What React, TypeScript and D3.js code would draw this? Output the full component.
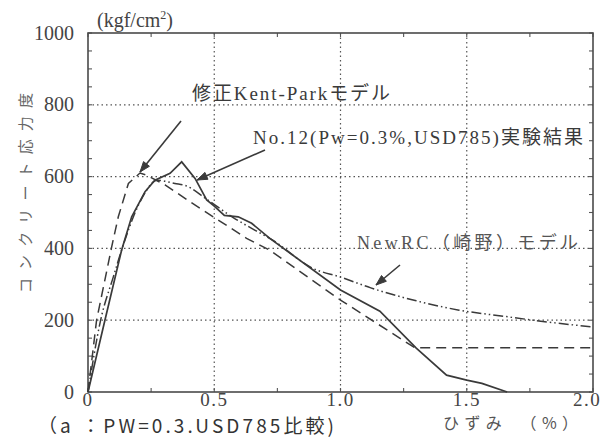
import React from "react";
import * as d3 from "d3";

// strain (%) / stress (kgf/cm2) curves
const expStrain = [0, 0.067, 0.133, 0.173, 0.226, 0.265, 0.325, 0.371, 0.424, 0.47, 0.5, 0.54, 0.595, 0.648, 0.72, 1.0, 1.156, 1.3, 1.42, 1.5, 1.56, 1.66];
const expStress = [0, 200, 395, 488, 558, 590, 609, 641, 595, 535, 518, 492, 488, 470, 428, 284, 225, 122, 47, 33, 24, 0];

const kpStrain = [0, 0.034, 0.094, 0.12, 0.16, 0.206, 0.232, 0.305, 0.364, 0.443, 0.628, 0.72, 1.0, 1.295, 2.0];
const kpStress = [0, 200, 405, 488, 581, 610, 604, 577, 549, 512, 428, 395, 256, 123, 123];

const nrcStrain = [0, 0.05, 0.1, 0.146, 0.2, 0.232, 0.272, 0.344, 0.39, 0.47, 0.575, 0.668, 0.72, 0.892, 1.0, 1.12, 1.3, 1.47, 1.657, 1.763, 2.0];
const nrcStress = [0, 200, 320, 423, 521, 562, 590, 581, 574, 537, 486, 448, 428, 344, 320, 290, 254, 228, 210, 200, 181];

const xTicks = [0, 0.5, 1.0, 1.5, 2.0];
const xTickLabels = ["0", "0.5", "1.0", "1.5", "2.0"];
const yTicks = [0, 200, 400, 600, 800, 1000];
const yTickLabels = ["0", "200", "400", "600", "800", "1000"];

const W = 606;
const H = 443;
const M = { left: 88, right: 593, top: 33, bottom: 392 };

const x = d3.scaleLinear().domain([0, 2]).range([M.left, M.right]);
const y = d3.scaleLinear().domain([0, 1000]).range([M.bottom, M.top]);

const serif = "Liberation Serif, Times New Roman, Tinos, DejaVu Serif, serif";
const jp = "Liberation Serif, Times New Roman, Tinos, Noto Sans CJK JP, serif";
const sans = "Noto Sans CJK JP, Liberation Sans, sans-serif";
const ink = "#3a3a3a";

function pts(xs: number[], ys: number[]): [number, number][] {
  return xs.map((v, i) => [v, ys[i]]);
}

const lineGen = d3
  .line<[number, number]>()
  .x((d) => x(d[0]))
  .y((d) => y(d[1]));

const smoothGen = d3
  .line<[number, number]>()
  .x((d) => x(d[0]))
  .y((d) => y(d[1]))
  .curve(d3.curveMonotoneX);

function Arrow({ x1, y1, x2, y2 }: { x1: number; y1: number; x2: number; y2: number }) {
  const a = Math.atan2(y2 - y1, x2 - x1);
  const L = 11;
  const s = 0.35;
  const p1 = [x2 - L * Math.cos(a - s), y2 - L * Math.sin(a - s)];
  const p2 = [x2 - L * Math.cos(a + s), y2 - L * Math.sin(a + s)];
  return (
    <g stroke={ink} strokeWidth={1.6} fill={ink}>
      <line x1={x1} y1={y1} x2={x2} y2={y2} />
      <path d={`M${p1[0]},${p1[1]}L${x2},${y2}L${p2[0]},${p2[1]}Z`} strokeWidth={1} />
    </g>
  );
}

export default function App() {
  const xMinor = d3.range(0, 2.0001, 0.25);
  const yMinor = d3.range(0, 1000.001, 50);
  return (
    <svg
      width={W}
      height={H}
      style={{ position: "absolute", left: 0, top: 0, background: "#fff" }}
    >
      <rect x={0} y={0} width={W} height={H} fill="#fff" />

      {/* dotted grid */}
      <g stroke="#555" strokeWidth={1.2} strokeDasharray="1.5 3">
        {[0.5, 1.0, 1.5].map((v) => (
          <line key={"gx" + v} x1={x(v)} x2={x(v)} y1={M.top} y2={M.bottom} />
        ))}
        {[200, 400, 600, 800].map((v) => (
          <line key={"gy" + v} x1={M.left} x2={M.right} y1={y(v)} y2={y(v)} />
        ))}
      </g>

      {/* inward ticks on all four sides */}
      <g stroke="#555" strokeWidth={1.1}>
        {xMinor.map((v) => (
          <g key={"tx" + v}>
            <line x1={x(v)} x2={x(v)} y1={M.bottom} y2={M.bottom - 4} />
            <line x1={x(v)} x2={x(v)} y1={M.top} y2={M.top + 4} />
          </g>
        ))}
        {yMinor.map((v) => (
          <g key={"ty" + v}>
            <line x1={M.left} x2={M.left + 4} y1={y(v)} y2={y(v)} />
            <line x1={M.right} x2={M.right - 4} y1={y(v)} y2={y(v)} />
          </g>
        ))}
      </g>

      <rect
        x={M.left}
        y={M.top}
        width={M.right - M.left}
        height={M.bottom - M.top}
        fill="none"
        stroke="#4a4a4a"
        strokeWidth={1.6}
      />

      {/* curves */}
      <path d={lineGen(pts(kpStrain, kpStress)) || ""} fill="none" stroke={ink} strokeWidth={1.5} strokeDasharray="10 6" />
      <path
        d={smoothGen(pts(nrcStrain, nrcStress)) || ""}
        fill="none"
        stroke={ink}
        strokeWidth={1.5}
        strokeDasharray="10 3 1.5 3 1.5 3"
      />
      <path d={lineGen(pts(expStrain, expStress)) || ""} fill="none" stroke={ink} strokeWidth={1.7} />

      {/* tick labels */}
      <g fill="#444">
        {yTicks.map((v, i) => (
          <text key={"yl" + v} x={74} y={y(v) + 6.5} textAnchor="end" style={{ fontFamily: serif }} fontSize={20}>
            {yTickLabels[i]}
          </text>
        ))}
        {xTicks.map((v, i) => (
          <text
            key={"xl" + v}
            x={x(v) + (v === 2 ? -6 : 0)}
            y={406}
            textAnchor="middle"
            letterSpacing={1.5}
            style={{ fontFamily: serif }}
            fontSize={19}
          >
            {xTickLabels[i]}
          </text>
        ))}
      </g>

      {/* unit */}
      <text x={97} y={27} style={{ fontFamily: serif }} fontSize={20} fill="#444">
        (kgf/cm
        <tspan dy={-8} fontSize={12}>2</tspan>
        <tspan dy={8}>)</tspan>
      </text>

      {/* axis titles */}
      <text
        transform={`translate(31,293) rotate(-90)`}
        style={{ fontFamily: sans }}
        fontSize={15}
        fill="#666"
        textLength={200}
        lengthAdjust="spacing"
      >
        コンクリート応力度
      </text>
      <text x={443} y={429} style={{ fontFamily: sans }} fontSize={16} fill="#555" textLength={135} lengthAdjust="spacing">
        ひずみ　（%）
      </text>

      {/* curve labels */}
      <text x={192} y={100} style={{ fontFamily: jp }} fontSize={19} fill="#3a3a3a" textLength={198} lengthAdjust="spacing">
        修正Kent-Parkモデル
      </text>
      <text x={253} y={144} style={{ fontFamily: jp }} fontSize={19} fill="#3a3a3a" textLength={330} lengthAdjust="spacing">
        No.12(Pw=0.3%,USD785)実験結果
      </text>
      <text x={357} y={249} style={{ fontFamily: jp }} fontSize={18} fill="#555" textLength={221} lengthAdjust="spacing">
        NewRC（崎野）モデル
      </text>

      {/* arrows */}
      <Arrow x1={181} y1={121} x2={140} y2={172} />
      <Arrow x1={265} y1={150} x2={197} y2={180} />
      <Arrow x1={400} y1={265} x2={376} y2={285} />

      {/* caption */}
      <text x={38} y={433} style={{ fontFamily: sans }} fontSize={19} fill="#333" textLength={296} lengthAdjust="spacing">
        （a ：PW=0.3.USD785比較)
      </text>
    </svg>
  );
}
